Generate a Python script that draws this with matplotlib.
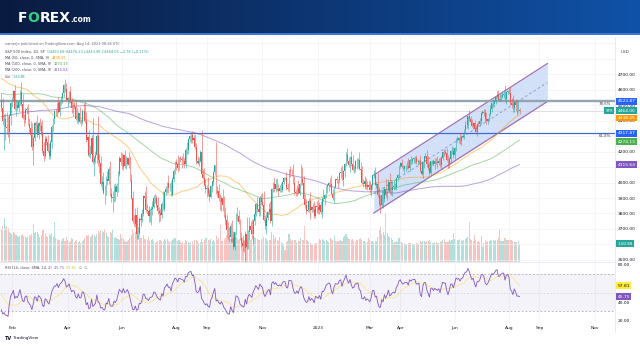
import numpy as np
import pandas as pd
import matplotlib
matplotlib.use("Agg")
import matplotlib.pyplot as plt
from matplotlib.lines import Line2D
from matplotlib.patches import Rectangle

W, H = 640, 360

# ---------------- data ----------------
# daily closes before the visible window (only used for the moving averages / RSI warm-up)
prior_close = [
    4077, 4073, 4080, 4097, 4129, 4128, 4142, 4125, 4170, 4185, 4163, 4135, 4173, 4135, 4180, 4187, 4186, 4183, 4211, 4181,
    4192, 4164, 4167, 4201, 4232, 4188, 4152, 4063, 4112, 4174, 4163, 4128, 4116, 4159, 4156, 4197, 4188, 4195, 4200, 4204,
    4202, 4208, 4192, 4230, 4226, 4227, 4220, 4239, 4247, 4255, 4246, 4223, 4222, 4166, 4224, 4246, 4241, 4266, 4274, 4281, 4291, 4298,
    4320, 4352, 4343, 4358, 4320, 4369, 4384, 4369, 4374, 4360, 4327, 4258, 4323, 4359, 4368, 4411, 4422, 4402, 4419, 4401, 4395,
    4387, 4423, 4403, 4429, 4437, 4432, 4436, 4442, 4460, 4468, 4480, 4448, 4400, 4405, 4442, 4479, 4486, 4496, 4470, 4509, 4529, 4523,
    4524, 4537, 4535, 4520, 4514, 4493, 4459, 4469, 4443, 4481, 4433, 4358, 4354, 4396, 4449, 4455, 4443, 4353, 4360, 4359, 4308,
    4358, 4300, 4345, 4363, 4399, 4391, 4361, 4351, 4364, 4438, 4471, 4486, 4520, 4536, 4550, 4544, 4567, 4575, 4552, 4596, 4605,
    4613, 4631, 4660, 4680, 4697, 4702, 4685, 4647, 4650, 4683, 4683, 4701, 4689, 4704, 4698, 4683, 4702, 4691, 4595, 4655, 4567,
    4513, 4577, 4538, 4592, 4687, 4701, 4668, 4713, 4669, 4635, 4710, 4669, 4621, 4568, 4650, 4697, 4726, 4791, 4786, 4793, 4778, 4766,
    4797, 4794, 4701, 4696, 4677, 4670, 4713, 4726, 4659, 4663, 4577, 4533,
]

# visible daily closes, 2022-01-20 .. 2023-08-11
close = [
    4483, 4398, 4410, 4356, 4350, 4327, 4432, 4516,
    4547, 4589, 4477, 4501, 4484, 4522, 4587, 4504, 4419, 4402, 4471, 4475, 4380, 4349, 4305, 4226, 4289, 4385, 4374,
    4306, 4387, 4363, 4329, 4201, 4171, 4278, 4260, 4204, 4173, 4262, 4358, 4412, 4463, 4461, 4512, 4456, 4520, 4543, 4576, 4632, 4602, 4530,
    4546, 4583, 4525, 4481, 4500, 4488, 4413, 4397, 4447, 4393, 4392, 4462, 4459, 4394, 4272, 4296, 4175, 4184, 4288, 4132,
    4155, 4175, 4300, 4147, 4123, 3991, 4001, 3935, 3930, 4024, 4008, 4089, 3924, 3901, 3901, 3974, 3941, 3979, 4058, 4158, 4132,
    4101, 4177, 4109, 4121, 4161, 4116, 4018, 3901, 3750, 3735, 3790, 3667, 3675, 3765, 3760, 3796, 3912, 3900, 3822, 3819, 3785,
    3825, 3831, 3845, 3903, 3899, 3854, 3819, 3802, 3790, 3863, 3831, 3937, 3960, 3999, 3962, 3967, 3921, 4024, 4072, 4130,
    4119, 4091, 4155, 4152, 4145, 4140, 4122, 4210, 4207, 4280, 4297, 4305, 4274, 4284, 4228, 4138, 4129, 4141, 4199, 4058, 4031, 3986, 3955,
    3967, 3924, 3908, 3980, 4006, 4067, 4110, 3933, 3946, 3901, 3873, 3900, 3856, 3790, 3758, 3693, 3655, 3647, 3719, 3640, 3586,
    3678, 3791, 3783, 3745, 3640, 3612, 3589, 3577, 3670, 3583, 3678, 3720, 3695, 3666, 3753, 3797, 3859, 3831, 3807, 3901, 3872,
    3856, 3760, 3720, 3771, 3807, 3828, 3749, 3956, 3993, 3957, 3992, 3959, 3947, 3965, 3950, 4004, 4027, 4026, 3964, 3958, 4080,
    4077, 4072, 3999, 3941, 3934, 3964, 3934, 3991, 4020, 3995, 3896, 3852, 3818, 3822, 3878, 3822, 3845, 3829, 3783, 3849, 3840,
    3824, 3853, 3808, 3895, 3892, 3919, 3970, 3983, 3999, 3991, 3929, 3899, 3973, 4020, 4017, 4016, 4060, 4071, 4018, 4077,
    4119, 4180, 4136, 4111, 4164, 4118, 4082, 4090, 4137, 4136, 4148, 4090, 4079, 3997, 3991, 4012, 3970, 3982, 3970,
    3951, 3981, 4046, 4048, 3986, 3992, 3918, 3862, 3856, 3919, 3892, 3960, 3917, 3952, 4003, 3937, 3949, 3971, 3978, 3971, 4028, 4051, 4109,
    4125, 4101, 4090, 4105, 4109, 4109, 4092, 4146, 4138, 4151, 4155, 4155, 4130, 4134, 4137, 4072, 4056, 4135, 4169,
    4168, 4120, 4091, 4061, 4136, 4138, 4119, 4138, 4131, 4124, 4136, 4110, 4159, 4198, 4192, 4193, 4146, 4115, 4151, 4205, 4206, 4180,
    4221, 4282, 4274, 4284, 4268, 4294, 4299, 4339, 4369, 4373, 4426, 4410, 4389, 4366, 4382, 4348, 4329, 4378, 4377, 4396, 4450,
    4456, 4447, 4412, 4399, 4410, 4439, 4472, 4510, 4505, 4523, 4555, 4566, 4535, 4536, 4555, 4567, 4567, 4537, 4582, 4589,
    4577, 4513, 4502, 4478, 4518, 4499, 4468, 4469, 4464,
]

# upper / lower wick length above / below the candle body (index points)
wick_up = [
    45, 60, 30, 40, 100, 80, 10, 5,
    8, 5, 40, 30, 30, 10, 8, 60, 70, 25, 8, 20, 30, 35, 45, 80, 10, 8, 15,
    60, 5, 30, 30, 75, 60, 25, 25, 45, 50, 10, 12, 5, 5, 10, 8, 40, 5, 15, 5, 5, 35, 40,
    5, 10, 40, 20, 20, 20, 40, 70, 10, 40, 20, 10, 50, 70, 60, 5, 45, 55, 20, 130,
    15, 30, 10, 130, 35, 50, 40, 70, 50, 15, 50, 10, 50, 40, 45, 15, 25, 20, 15, 10, 40,
    60, 5, 30, 50, 5, 35, 55, 40, 45, 40, 45, 50, 40, 15, 40, 30, 5, 35, 80, 40, 30,
    10, 15, 35, 15, 20, 20, 55, 25, 25, 10, 80, 10, 20, 5, 50, 30, 40, 10, 15, 10,
    20, 60, 10, 15, 20, 45, 20, 10, 50, 5, 10, 20, 30, 20, 30, 30, 35, 25, 10, 140, 30, 60, 35,
    20, 70, 35, 5, 10, 10, 5, 150, 30, 45, 25, 10, 55, 60, 50, 30, 55, 60, 20, 40, 50,
    5, 15, 50, 40, 20, 40, 50, 40, 20, 110, 15, 60, 30, 70, 10, 20, 10, 50, 50, 10, 25,
    60, 90, 30, 30, 10, 40, 55, 10, 10, 40, 30, 35, 30, 20, 30, 5, 10, 10, 40, 30, 5,
    25, 10, 50, 40, 20, 20, 50, 5, 100, 80, 50, 30, 40, 30, 20, 60, 5, 20, 50, 5, 30,
    55, 20, 30, 10, 60, 5, 5, 10, 5, 30, 60, 30, 5, 5, 20, 5, 10, 30, 40, 5,
    5, 15, 40, 30, 10, 40, 60, 20, 10, 20, 10, 50, 40, 30, 25, 30, 20, 30, 35,
    40, 10, 5, 30, 50, 10, 70, 55, 60, 30, 40, 15, 60, 5, 20, 60, 70, 40, 35, 20, 10, 5, 5,
    10, 25, 15, 10, 5, 30, 50, 5, 25, 10, 10, 15, 20, 15, 10, 40, 50, 5, 5,
    20, 40, 50, 40, 5, 10, 15, 20, 20, 40, 20, 30, 10, 5, 20, 20, 30, 30, 15, 5, 30, 20,
    10, 5, 20, 10, 40, 10, 20, 5, 25, 20, 5, 40, 20, 20, 5, 20, 25, 5, 20, 20, 5,
    15, 20, 30, 45, 5, 10, 30, 5, 25, 10, 5, 25, 30, 35, 15, 20, 25, 60, 5, 5,
    20, 40, 30, 60, 5, 20, 35, 60, 12,
]
wick_dn = [
    20, 25, 190, 80, 40, 35, 70, 60,
    30, 20, 10, 50, 15, 25, 20, 10, 10, 40, 15, 30, 10, 20, 20, 15, 115, 20, 50,
    10, 25, 30, 25, 10, 30, 15, 20, 10, 20, 20, 40, 25, 35, 35, 30, 10, 25, 20, 30, 25, 15, 5,
    45, 30, 10, 30, 50, 15, 10, 10, 20, 10, 30, 15, 10, 10, 10, 100, 10, 20, 35, 10,
    90, 30, 50, 40, 60, 15, 40, 10, 70, 10, 25, 20, 10, 30, 90, 30, 60, 30, 40, 15, 20,
    15, 20, 15, 20, 10, 20, 10, 10, 10, 15, 20, 30, 30, 15, 40, 15, 15, 15, 10, 20, 40,
    40, 100, 40, 10, 30, 10, 20, 60, 40, 20, 10, 15, 20, 30, 30, 20, 10, 10, 20, 20,
    40, 20, 10, 20, 50, 20, 30, 30, 20, 20, 20, 40, 20, 20, 10, 20, 10, 20, 10, 10, 10, 10, 20,
    50, 10, 25, 10, 40, 20, 20, 10, 25, 20, 50, 60, 40, 10, 30, 45, 20, 25, 30, 25, 15,
    20, 15, 30, 10, 10, 30, 30, 25, 180, 10, 10, 40, 30, 30, 60, 30, 15, 20, 25, 20, 20,
    10, 10, 20, 50, 15, 10, 10, 30, 20, 20, 20, 15, 35, 10, 10, 10, 15, 10, 10, 15, 20,
    40, 30, 10, 20, 20, 20, 10, 15, 10, 10, 15, 15, 20, 10, 10, 60, 15, 20, 10, 15, 40,
    30, 30, 10, 40, 10, 40, 20, 40, 40, 20, 5, 15, 30, 10, 20, 50, 20, 30, 5, 40,
    40, 10, 10, 10, 40, 10, 5, 20, 20, 50, 40, 10, 30, 5, 20, 30, 15, 20, 5,
    20, 40, 20, 20, 5, 20, 10, 15, 50, 15, 55, 20, 10, 30, 5, 10, 15, 35, 20, 10, 20, 20, 15,
    15, 10, 10, 30, 30, 20, 5, 20, 20, 20, 25, 30, 10, 20, 15, 5, 10, 25, 40,
    10, 20, 10, 15, 15, 20, 10, 30, 10, 30, 10, 10, 20, 15, 20, 10, 5, 20, 20, 25, 20, 20,
    30, 20, 15, 20, 20, 25, 10, 20, 20, 20, 25, 10, 5, 10, 20, 10, 5, 30, 15, 10, 20,
    10, 15, 20, 20, 20, 15, 10, 15, 15, 20, 15, 10, 5, 10, 10, 10, 20, 10, 30, 10,
    5, 15, 20, 20, 20, 40, 30, 20, 20,
]

# volume in hundreds of millions of shares
volume = [
    33, 36, 44, 35, 36, 34, 30, 29,
    28, 30, 29, 27, 26, 25, 26, 27, 28, 26, 25, 24, 25, 27, 26, 28, 38, 29, 30,
    30, 28, 25, 27, 32, 33, 29, 26, 25, 28, 27, 29, 25, 40, 24, 23, 22, 22, 21, 23, 24, 21, 25,
    22, 20, 21, 24, 23, 20, 21, 22, 20, 21, 19, 21, 22, 24, 27, 26, 27, 25, 26, 28,
    27, 25, 28, 31, 29, 32, 31, 30, 33, 29, 26, 25, 30, 29, 33, 24, 25, 24, 23, 22, 28,
    24, 23, 21, 20, 21, 22, 24, 27, 33, 29, 30, 30, 45, 26, 24, 24, 27, 23, 23, 22, 25,
    21, 22, 23, 21, 19, 20, 21, 22, 22, 21, 21, 23, 22, 23, 21, 20, 21, 22, 23, 24,
    22, 21, 22, 20, 19, 20, 19, 22, 21, 20, 19, 20, 21, 18, 22, 22, 21, 19, 20, 23, 20, 22, 24,
    24, 22, 22, 23, 21, 22, 20, 26, 22, 24, 37, 21, 21, 23, 24, 27, 25, 24, 23, 23, 28,
    25, 25, 23, 22, 23, 22, 24, 22, 28, 25, 23, 23, 22, 23, 26, 25, 24, 23, 22, 22, 23,
    23, 25, 24, 23, 21, 22, 22, 30, 27, 23, 25, 22, 21, 25, 20, 19, 18, 12, 20, 21, 28,
    23, 21, 22, 22, 22, 20, 21, 21, 24, 22, 22, 36, 22, 21, 20, 19, 18, 17, 18, 19, 19,
    21, 23, 22, 23, 22, 21, 22, 21, 20, 24, 23, 22, 26, 21, 20, 21, 21, 22, 21, 25,
    26, 28, 25, 23, 23, 22, 23, 21, 20, 22, 22, 23, 24, 22, 21, 21, 20, 20, 24,
    22, 21, 21, 20, 21, 21, 25, 33, 35, 28, 30, 27, 49, 29, 26, 25, 24, 22, 19, 20, 21, 20, 24,
    21, 20, 19, 19, 17, 18, 19, 19, 19, 18, 18, 18, 19, 19, 18, 21, 20, 21, 21,
    20, 21, 21, 22, 20, 19, 19, 20, 20, 19, 19, 20, 21, 22, 23, 20, 20, 20, 22, 21, 22, 29,
    23, 22, 22, 22, 23, 22, 21, 22, 23, 24, 25, 40, 23, 22, 21, 27, 22, 20, 21, 20, 26,
    15, 19, 22, 20, 21, 21, 22, 21, 22, 21, 22, 22, 24, 33, 21, 21, 21, 24, 22, 22,
    22, 22, 22, 21, 20, 20, 20, 21, 18.23,
]

holidays = ['2022-02-21', '2022-04-15', '2022-05-30', '2022-06-20', '2022-07-04', '2022-09-05',
            '2022-11-24', '2022-12-26', '2023-01-02', '2023-01-16', '2023-02-20', '2023-04-07',
            '2023-05-29', '2023-06-19', '2023-07-04', '2023-09-04', '2023-11-23']

tick_dates = ['2022-02-01', '2022-04-01', '2022-06-01', '2022-08-01', '2022-09-01', '2022-11-01',
              '2023-01-03', '2023-03-01', '2023-04-03', '2023-06-01', '2023-08-01', '2023-09-01', '2023-11-01']
tick_labels = ['Feb', 'Apr', 'Jun', 'Aug', 'Sep', 'Nov', '2023', 'Mar', 'Apr', 'Jun', 'Aug', 'Sep', 'Nov']

price_ticks = [3500, 3700, 3800, 3900, 4000, 4200, 4400, 4500, 4600, 4700]
rsi_ticks = [20, 40, 80]

fib_levels = [4523.87, 4317.87]
fib_names = ['78.6%', '61.8%']

channel_dates = ['2023-03-06', '2023-09-12']
channel_top = [4048, 4768]
channel_bot = [3803, 4523]

tag_values = [4523.87, 4464.06, 4438.25, 4317.87, 4274.13, 4115.64]
tag_colors = ['#2962ff', '#26a69a', '#ff9800', '#2962ff', '#4caf50', '#7e57c2']

GREEN, RED = '#26a69a', '#ef5350'

# ---------------- derived series ----------------
assert len(close) == len(wick_up) == len(wick_dn) == len(volume)
n = len(close)
dates = pd.bdate_range('2022-01-20', '2023-12-29', freq='C', holidays=holidays)
x = np.arange(n)

allc = pd.Series(prior_close + close, dtype=float)
k = len(prior_close)
c = np.array(close, dtype=float)
o = allc.shift(1).values[k:]
hi = np.maximum(o, c) + np.array(wick_up)
lo = np.minimum(o, c) - np.array(wick_dn)
up = c >= o

ma50 = allc.rolling(50).mean().values[k:]
ma100 = allc.rolling(100).mean().values[k:]
ma200 = allc.rolling(200).mean().values[k:]

delta = allc.diff()
gain = delta.clip(lower=0).ewm(alpha=1 / 14, adjust=False).mean()
loss = (-delta.clip(upper=0)).ewm(alpha=1 / 14, adjust=False).mean()
rsi_all = 100 - 100 / (1 + gain / loss)
rsi = rsi_all.values[k:]
rsi_ma = rsi_all.rolling(14).mean().values[k:]


def box(x0, y0, x1, y1):
    return [x0 / W, 1 - y1 / H, (x1 - x0) / W, (y1 - y0) / H]


fig = plt.figure(figsize=(W / 100, H / 100), dpi=100)
fig.patch.set_facecolor('white')

# header band
hdr = fig.add_axes(box(0, 0, W, 34))
t = np.linspace(0, 1, 256)[:, None]
c0 = np.array([10, 27, 64]) / 255
c1 = np.array([16, 82, 168]) / 255
hdr.imshow((c0 + (c1 - c0) * t)[None, :, :], aspect='auto', extent=[0, 1, 0, 1])
hdr.axis('off')
fig.patches.append(Rectangle((0, 1 - 34.5 / H), 1, 1.2 / H, transform=fig.transFigure,
                             color='#3b78d6', lw=0))

rend = fig.canvas.get_renderer()


def text_row(x_px, y_px, parts, size=2.5, va='center'):
    for s, col, *extra in parts:
        sz = extra[0] if extra else size
        wt = extra[1] if len(extra) > 1 else 'normal'
        tx = fig.text(x_px / W, 1 - y_px / H, s, color=col, fontsize=sz, fontweight=wt, va=va, ha='left')
        x_px += tx.get_window_extent(renderer=rend).width


text_row(18, 22, [('F', 'white', 10, 'bold'), ('O', '#34d07f', 10, 'bold'),
                  ('REX', 'white', 10, 'bold'), ('.com', 'white', 5.5, 'bold')], va='baseline')

# main price pane
ax = fig.add_axes(box(0, 37, 615, 262))
axv = ax.twinx()
ax.set_zorder(2)
axv.set_zorder(1)
ax.patch.set_visible(False)

xmin, xmax = -1.06, 463
ax.set_xlim(xmin, xmax)
ax.set_ylim(3487, 4939)
axv.set_ylim(0, 225)

tick_pos = [dates.get_loc(pd.Timestamp(d)) for d in tick_dates]
for p in range(3500, 4901, 100):
    ax.axhline(p, color='#f1f2f6', lw=0.5, zorder=0)
for tp in tick_pos:
    ax.axvline(tp, color='#f1f2f6', lw=0.5, zorder=0)

vcol = np.where(up, GREEN, RED)
axv.bar(x, volume, width=0.8, color=vcol, alpha=0.35, lw=0)
axv.axis('off')

# channel
cx = [dates.get_loc(pd.Timestamp(d)) for d in channel_dates]
ax.fill_between(cx, channel_bot, channel_top, color='#c4d8f6', alpha=0.75, lw=0, zorder=1)
ax.plot(cx, channel_top, color='#a071b4', lw=0.9, zorder=2)
ax.plot(cx, channel_bot, color='#a071b4', lw=0.9, zorder=2)
ax.plot(cx, [(a + b) / 2 for a, b in zip(channel_top, channel_bot)], color='#8093c8',
        lw=0.6, ls=(0, (3, 3)), zorder=2)

# fib levels and price line
ax.axhline(fib_levels[0], color='#92a5b0', lw=1.7, zorder=2)
ax.axhline(fib_levels[1], color='#3e6bd6', lw=0.9, zorder=2)
ax.axhline(tag_values[1], color='#cdd0d6', lw=0.5, zorder=1.5)

# moving averages
ax.plot(x, ma50, color='#ff9800', lw=0.7, alpha=0.5, zorder=2.5)
ax.plot(x, ma100, color='#4caf50', lw=0.7, alpha=0.5, zorder=2.5)
ax.plot(x, ma200, color='#7e57c2', lw=0.7, alpha=0.55, zorder=2.5)

# candles
ax.vlines(x, lo, hi, colors=vcol, lw=0.4, zorder=3)
ax.bar(x, np.maximum(np.abs(c - o), 3), bottom=np.minimum(o, c), width=0.6, color=vcol, lw=0, zorder=3)

for s in ax.spines.values():
    s.set_visible(False)
ax.set_xticks([])
ax.yaxis.tick_right()
ax.set_yticks(price_ticks)
ax.set_yticklabels([f'{v:.2f}' for v in price_ticks])
ax.tick_params(axis='y', length=0, pad=2, labelsize=3.2, labelcolor='#131722')

yt = ax.get_yaxis_transform()
tag_shift = [0, 0, -22, 0, -10, 0]
for v, col, dv in zip(tag_values, tag_colors, tag_shift):
    ax.text(1.004, v + dv, f'{v:.2f}', transform=yt, fontsize=3.2, color='white', va='center', ha='left',
            bbox=dict(boxstyle='square,pad=0.3', fc=col, ec='none'), clip_on=False, zorder=5)
ax.text(0.9968, tag_values[1], 'SPX', transform=yt, fontsize=2.8, color='white', va='center', ha='right',
        bbox=dict(boxstyle='square,pad=0.3', fc=GREEN, ec='none'), clip_on=False, zorder=5)
for v, name in zip(fib_levels, fib_names):
    ax.text(0.993, v - 17, name, transform=yt, fontsize=2.8, color='#434651', va='center', ha='right')
axv.text(1.004, volume[-1], '1.823B', transform=axv.get_yaxis_transform(), fontsize=3.2, color='white',
         va='center', ha='left', bbox=dict(boxstyle='square,pad=0.3', fc=GREEN, ec='none'), clip_on=False)

# RSI pane
axr = fig.add_axes(box(0, 262, 615, 323))
axr.set_xlim(xmin, xmax)
axr.set_ylim(17.3, 83.24)
for tp in tick_pos:
    axr.axvline(tp, color='#f1f2f6', lw=0.5, zorder=0)
axr.axhspan(30, 70, color='#7e57c2', alpha=0.07, lw=0)
axr.axhline(70, color='#9598a1', lw=0.45, ls=(0, (3, 3)))
axr.axhline(30, color='#9598a1', lw=0.45, ls=(0, (3, 3)))
axr.axhline(50, color='#9598a1', lw=0.4, ls=(0, (3, 3)), alpha=0.5)
axr.plot(x, rsi_ma, color='#fdd835', lw=0.6, alpha=0.55)
axr.plot(x, rsi, color='#7e57c2', lw=0.6)
for s in axr.spines.values():
    s.set_visible(False)
axr.spines['top'].set_visible(True)
axr.spines['top'].set_color('#e0e3eb')
axr.spines['top'].set_linewidth(0.5)
axr.yaxis.tick_right()
axr.set_yticks(rsi_ticks)
axr.set_yticklabels([f'{v:.2f}' for v in rsi_ticks])
axr.set_xticks(tick_pos)
axr.set_xticklabels(tick_labels)
axr.tick_params(length=0, labelsize=3.2, labelcolor='#131722')
axr.tick_params(axis='y', pad=2)
axr.tick_params(axis='x', pad=2.5)
rt = axr.get_yaxis_transform()
axr.text(1.004, 57.81, '57.81', transform=rt, fontsize=3.2, color='#131722', va='center', ha='left',
         bbox=dict(boxstyle='square,pad=0.3', fc='#ffeb3b', ec='none'), clip_on=False)
axr.text(1.004, 45.75, '45.75', transform=rt, fontsize=3.2, color='white', va='center', ha='left',
         bbox=dict(boxstyle='square,pad=0.3', fc='#7e57c2', ec='none'), clip_on=False)

# right axis separator
fig.add_artist(Line2D([615 / W, 615 / W], [1 - 332 / H, 1 - 37 / H], color='#e0e3eb', lw=0.5))

# legend texts
dark, gray = '#434651', '#6a6d78'
text_row(5, 44, [('vamerjo published on TradingView.com, Aug 14, 2023 08:36 UTC', gray)])
text_row(5, 52, [('S&P 500 Index, 1D, SP  ', dark),
                 ('O4450.69 H4476.23 L4443.98 C4464.06 \u22124.78 (\u22120.11%)', GREEN)])
text_row(5, 58, [('MA (50, close, 0, SMA, 9)  ', dark), ('4438.25', '#ff9800')])
text_row(5, 64, [('MA (100, close, 0, SMA, 9)  ', dark), ('4274.13', '#4caf50')])
text_row(5, 70, [('MA (200, close, 0, SMA, 9)  ', dark), ('4115.64', '#7e57c2')])
text_row(5, 77, [('Vol  ', dark), ('1.823B', GREEN)])
text_row(5, 268, [('RSI (14, close, SMA, 14, 2)  ', dark), ('45.75  ', '#7e57c2'),
                  ('57.81  ', '#d9bf00'), ('\u2205  \u2205', gray)])
text_row(621, 52, [('USD', dark)], size=3)
text_row(5, 338, [('TV', '#131722', 3.5, 'bold'), (' TradingView', '#131722', 3)])

fig.savefig('out.png', dpi=100)
